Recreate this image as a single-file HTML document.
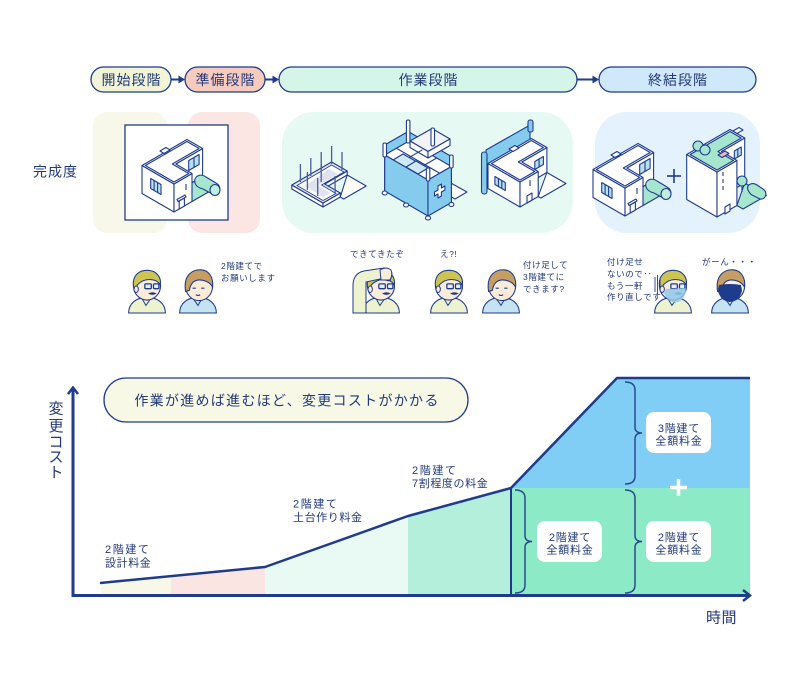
<!DOCTYPE html>
<html><head><meta charset="utf-8">
<style>
html,body{margin:0;padding:0;background:#fff;}
svg{display:block;}
text{font-family:"Liberation Sans","Noto Sans CJK JP",sans-serif;fill:#22397a;}
.s{stroke:#1f3b8c;stroke-width:1.1;stroke-linejoin:round;}
.w{fill:#fff;}
.win{fill:#b9e0f2;}
.g{fill:#a6e5ce;}
.bl{fill:#85cbee;}
</style></head><body>
<svg width="800" height="680" viewBox="0 0 800 680" xmlns="http://www.w3.org/2000/svg">
<defs>
  <g id="house1">
    <polygon class="s g" points="202.6,176.5 219,186 192,201.5 175.8,192"/>
    <polygon class="s w" points="202.6,148.5 202.6,176.5 175.8,192 175.8,164"/>
    <polygon class="s win" points="199.1,154.5 188.7,160.5 188.7,170.5 199.1,164.5"/>
    <line class="s" x1="194" y1="157.5" x2="194" y2="167.5"/>
    <path class="s g" d="M195,183 C193,176 201,173 206,177 L216,183 C222,186 221,195 214,195 L203,189 C199,188 196,186 195,183Z"/>
    <ellipse class="s" cx="215" cy="190" rx="5" ry="5.5" fill="#bfeedd"/>
    <polygon class="s w" points="142,165.5 174,184 174,212 142,193.5"/>
    <polygon class="s w" points="174,184 192,173.5 192,201.5 174,212"/>
    <polygon class="s w" points="187,139.5 202.6,148.5 175.8,164 192,173.5 174,184 142,165.5"/>
    <polygon class="s w" points="187,141.5 199.1,148.5 172.3,164 188.7,173.5 174,182 145.4,165.5"/>
    <polygon class="s w" points="160,151 166,147.5 170,150 164,153.5"/>
    <polygon class="s win" points="150.7,178.5 161,184.5 161,194.5 150.7,188.5"/>
    <line class="s" x1="154.1" y1="180.5" x2="154.1" y2="190.5"/>
    <line class="s" x1="157.6" y1="182.5" x2="157.6" y2="192.5"/>
    <polygon class="s w" points="184.4,206 179.2,209 179.2,201 184.4,198"/>
    <polygon class="s w" points="186,197 178,201.5 177,199.5 185,195"/>
    <line class="s" x1="186" y1="184" x2="186" y2="190"/>
  </g>
  <g id="pg">
    <path d="M-17,0 C-17,-9 -10,-14 0,-15 C10,-14 17,-9 17,0 Z" fill="#eef3cf" stroke="#1f3b8c" stroke-width="1"/>
    <path d="M-5,-14 L-1,-7 L4,-14" fill="none" stroke="#1f3b8c" stroke-width="0.9"/>
    <ellipse cx="0" cy="-25" rx="12.5" ry="13" fill="#fbecd9" stroke="#1f3b8c" stroke-width="1"/>
    <path d="M-12.5,-24 C-14,-36 -6,-40 1,-39.5 C9,-39 13.5,-33 12.3,-26 C10,-30 6,-31 2,-31 C-3,-31 -6,-29 -9,-26 L-10,-22 Z" fill="#cdc552" stroke="#1f3b8c" stroke-width="1"/>
    <rect x="-2" y="-27" width="6" height="4.5" rx="1" fill="#e3f1f7" stroke="#1f3b8c" stroke-width="1.2"/>
    <rect x="6" y="-27" width="5" height="4.5" rx="1" fill="#e3f1f7" stroke="#1f3b8c" stroke-width="1.2"/>
    <path d="M1,-18 Q5,-20.5 9,-18 Q5,-15.5 1,-18Z" fill="#1f3b8c"/>
    <ellipse cx="-10" cy="-22" rx="2" ry="3" fill="#fbecd9" stroke="#1f3b8c" stroke-width="0.9"/>
  </g>
  <g id="pb">
    <path d="M-17,0 C-17,-9 -10,-14 0,-15 C10,-14 17,-9 17,0 Z" fill="#c6e3f4" stroke="#1f3b8c" stroke-width="1"/>
    <path d="M-5,-14 L0,-7 L4,-14" fill="none" stroke="#1f3b8c" stroke-width="0.9"/>
    <ellipse cx="1" cy="-25" rx="12.5" ry="13.5" fill="#fbecd9" stroke="#1f3b8c" stroke-width="1"/>
    <path d="M-11.5,-20 C-14,-36 -4,-40.5 3,-40 C10,-39.5 14.5,-33 13.5,-24 C11,-29 5,-31 0,-30.5 C-4,-30 -7,-27 -8,-21 Z" fill="#c79e62" stroke="#1f3b8c" stroke-width="1"/>
    <path d="M-5,-23 l3,0 M3,-23 l3,0" stroke="#1f3b8c" stroke-width="1.1"/>
    <path d="M-2,-17 q2,1.5 4,0" fill="none" stroke="#1f3b8c" stroke-width="1"/>
  </g>
</defs>

<!-- Phase pills -->
<rect x="91" y="67" width="80" height="25" rx="12.5" fill="#f1f4d6" stroke="#1f3b8c" stroke-width="1.3"/>
<rect x="185" y="67" width="80" height="25" rx="12.5" fill="#f6cbbf" stroke="#1f3b8c" stroke-width="1.3"/>
<rect x="279" y="67" width="298" height="25" rx="12.5" fill="#d5f5e8" stroke="#1f3b8c" stroke-width="1.3"/>
<rect x="599" y="67" width="157" height="25" rx="12.5" fill="#cfe9fb" stroke="#1f3b8c" stroke-width="1.3"/>
<g stroke="#1f3b8c" stroke-width="2">
  <line x1="171" y1="79.5" x2="181" y2="79.5"/>
  <line x1="265" y1="79.5" x2="275" y2="79.5"/>
  <line x1="577" y1="79.5" x2="595" y2="79.5"/>
</g>
<g fill="#1f3b8c">
  <polygon points="185,79.5 178.5,75.5 178.5,83.5"/>
  <polygon points="279,79.5 272.5,75.5 272.5,83.5"/>
  <polygon points="599,79.5 592.5,75.5 592.5,83.5"/>
</g>
<g font-size="14" text-anchor="middle" letter-spacing="1">
  <text x="131.5" y="84.8">開始段階</text>
  <text x="225.5" y="84.8">準備段階</text>
  <text x="428.5" y="84.8">作業段階</text>
  <text x="678" y="84.8">終結段階</text>
</g>

<!-- Panels -->
<text x="33" y="176.5" font-size="14" letter-spacing="1">完成度</text>
<rect x="93" y="112" width="74" height="121" rx="14" fill="#f7f8e9"/>
<rect x="188" y="112" width="72" height="121" rx="14" fill="#fbe6e3"/>
<rect x="125" y="125" width="103" height="95" fill="#fff" stroke="#1f3b8c" stroke-width="1.3"/>
<rect x="282" y="112" width="291" height="121" rx="32" fill="#e6f9f2"/>
<rect x="595" y="112" width="165" height="121" rx="32" fill="#e3f2fd"/>

<!-- Building 1 -->
<use href="#house1"/>

<!-- Building 2: foundation -->
<polygon class="s w" points="347.2,175 366.2,186 343.7,199 340.3,197"/>
<polygon class="s w" points="291.8,185 323,203 323,207 291.8,189"/>
<polygon class="s w" points="323,203 340.3,193 340.3,197 323,207"/>
<polygon class="s w" points="347.2,171 324.7,184 324.7,188 347.2,175"/>
<polygon class="s" fill="#e4e7f1" points="331.6,162 347.2,171 324.7,184 340.3,193 323,203 291.8,185"/>
<polygon fill="#fff" stroke="#1f3b8c" stroke-width="0.8" points="331.6,165 344,172 321.5,185 336,193.5 323,200.5 297,185.5"/>
<polygon fill="#dfe3ee" points="329,169 338,174 318,185.5 330,193 323,197 305,186"/>
<g stroke="#4a5c9c" stroke-width="1.3">
  <line x1="331.6" y1="164" x2="331.6" y2="146"/>
  <line x1="342" y1="170" x2="342" y2="152"/>
  <line x1="321.2" y1="170" x2="321.2" y2="152"/>
  <line x1="310.8" y1="176" x2="310.8" y2="158"/>
  <line x1="300.4" y1="182" x2="300.4" y2="164"/>
  <line x1="321.2" y1="182" x2="321.2" y2="164"/>
  <line x1="307.4" y1="190" x2="307.4" y2="172"/>
  <line x1="317.7" y1="196" x2="317.7" y2="178"/>
  <line x1="335.1" y1="194" x2="335.1" y2="176"/>
</g>

<!-- Building 3: scaffolded -->
<polygon class="s w" points="449,182 467,192 455,199 449,195.5"/>
<polygon class="s bl" points="384.7,145 408.1,131.5 408.1,177.5 384.7,191"/>
<polygon class="s bl" points="408.1,131.5 451.4,156.5 451.4,202.5 408.1,177.5"/>
<polygon class="s w" points="384.7,155 408.1,141.5 451.4,166.5 428,180"/>
<polygon class="s" fill="#f2f4f8" points="410,141 432,128.5 450,139 428,151.5"/>
<polygon class="s w" points="410,141 428,151.5 428,158 410,147.5"/>
<polygon class="s w" points="428,151.5 450,139 450,145.5 428,158"/>
<g class="s" fill="none">
  <line x1="399" y1="163.3" x2="422.4" y2="149.8"/>
  <line x1="413.3" y1="171.5" x2="436.7" y2="158"/>
  <line x1="396.4" y1="148.25" x2="439.7" y2="173.25"/>
  <polygon fill="#cfeaf7" points="393,160 403,154 418,162.5 408,168.5"/>
  <polygon fill="#cfeaf7" points="406,167 416,161 428,168 418,174"/>
</g>
<polygon class="s bl" points="384.7,155 428,180 428,216 384.7,191"/>
<polygon class="s bl" points="428,180 451.4,166.5 451.4,202.5 428,216"/>
<polygon class="s w" points="438,186 441.4,184 441.4,188 444.9,186 444.9,190 441.4,192 441.4,196 438,198 438,194 434.5,196 434.5,192 438,190"/>
<g class="s" fill="#fff">
  <rect x="383" y="143" width="3.5" height="14" rx="1.5"/>
  <rect x="406.4" y="120" width="3.5" height="23" rx="1.5"/>
  <rect x="431" y="128" width="3.5" height="18" rx="1.5"/>
  <rect x="449.6" y="155" width="3.5" height="13" rx="1.5"/>
  <rect x="426.3" y="168" width="3.5" height="13" rx="1.5"/>
  <ellipse cx="384.7" cy="193" rx="2.5" ry="2"/>
  <ellipse cx="428" cy="218" rx="2.5" ry="2"/>
  <ellipse cx="451.4" cy="204.5" rx="2.5" ry="2"/>
  <ellipse cx="406" cy="205" rx="2.5" ry="2"/>
</g>

<!-- Building 4: nearly complete -->
<polygon class="s bl" points="486,150 530,125 530,142 486,167"/>
<rect class="s bl" x="528" y="120" width="5" height="12" rx="2"/>
<polygon class="s w" points="546.9,172.5 566,183.5 540.9,198 538.2,196.5"/>
<polygon class="s w" points="546.9,147.5 546.9,172.5 521.8,187 521.8,162"/>
<polygon class="s win" points="543.4,156.5 534.8,161.5 534.8,169.5 543.4,164.5"/>
<line class="s" x1="539.1" y1="159" x2="539.1" y2="167"/>
<polygon class="s w" points="488,163.5 520,182 520,207 488,188.5"/>
<polygon class="s w" points="520,182 538.2,171.5 538.2,196.5 520,207"/>
<polygon class="s w" points="531.3,138.5 546.9,147.5 521.8,162 538.2,171.5 520,182 488,163.5"/>
<polygon class="s w" points="531.3,140.5 543.4,147.5 518.3,162 534.8,171.5 520,180 491.5,163.5"/>
<polygon class="s w" points="509,149 515,145.5 519,148 513,151.5"/>
<polygon class="s win" points="494.9,176.5 505.3,182.5 505.3,190.5 494.9,184.5"/>
<line class="s" x1="498.4" y1="178.5" x2="498.4" y2="186.5"/>
<line class="s" x1="501.8" y1="180.5" x2="501.8" y2="188.5"/>
<polygon class="s w" points="532,200 527,203 527,196 532,193"/>
<line class="s" x1="530" y1="180" x2="530" y2="186"/>
<rect class="s bl" x="481.5" y="152" width="5.5" height="42" rx="2.5"/>

<!-- Building 5 -->
<use href="#house1" transform="translate(451,4)"/>

<!-- plus -->
<g stroke="#1f3b8c" stroke-width="1.6">
  <line x1="667" y1="176" x2="681" y2="176"/>
  <line x1="674" y1="169" x2="674" y2="183"/>
</g>

<!-- Building 6: 3 floors -->
<polygon class="s g" points="744.7,183 766.4,195.5 743,209 736.9,205.5"/>
<polygon class="s w" points="744.7,138 744.7,183 721.4,196.5 721.4,151.5"/>
<polygon class="s win" points="741.3,147 734.3,151 734.3,159 741.3,155"/>
<line class="s" x1="737.8" y1="149" x2="737.8" y2="157"/>
<path class="s g" d="M748,190 C746,184 753,182 757,185 L763,189 C768,192 766,200 760,199 L752,195 C750,194 749,192 748,190Z"/>
<line class="s" x1="742" y1="184" x2="742" y2="192"/>
<circle class="s g" cx="742" cy="181" r="5"/>
<polygon class="s w" points="686.7,154.5 717,172 717,217 686.7,199.5"/>
<polygon class="s w" points="717,172 736.9,160.5 736.9,205.5 717,217"/>
<polygon class="s w" points="730,129.5 744.7,138 721.4,151.5 736.9,160.5 717,172 686.7,154.5"/>
<polygon class="s g" points="730,131.5 741.3,138 717.9,151.5 733.5,160.5 717,170 690.2,154.5"/>
<polygon class="s w" points="733,131 739,127.5 743,130 737,133.5"/>
<circle class="s g" cx="698" cy="146" r="5"/>
<circle class="s g" cx="705" cy="150" r="5"/>
<polygon class="s" fill="#f4b9ad" points="718,155 725,151 729,153.5 722,157.5"/>
<g class="s">
  <line x1="723" y1="172" x2="723" y2="176"/>
  <line x1="723" y1="179" x2="723" y2="183"/>
  <line x1="723" y1="186" x2="723" y2="190"/>
</g>
<polygon class="s w" points="730,211 725,214 725,207 730,204"/>

<!-- People -->
<use href="#pg" transform="translate(147,313) scale(1.08)"/>
<use href="#pb" transform="translate(198,313) scale(1.08)"/>
<use href="#pg" transform="translate(381,313) scale(1.08)"/>
<path d="M353,313 L353,284 Q354,273 364,271 L384,268 Q391,268 392,274 L390,281 L380,279 L366,282 L366,313 Z" fill="#eef3cf" stroke="#1f3b8c" stroke-width="1"/>
<path d="M380,270 q6,-4 11,0 q2,5 -1,10 l-9,0 Z" fill="#fbecd9" stroke="#1f3b8c" stroke-width="1"/>
<use href="#pg" transform="translate(449,313) scale(1.08)"/>
<use href="#pb" transform="translate(501,313) scale(1.08)"/>
<use href="#pg" transform="translate(673,313) scale(1.08)"/>
<path d="M664,293 Q668,302 675,302.5 Q684,302 686,291 L685,288 L666,289 Z" fill="#8fc9ea" opacity="0.85"/>
<g stroke="#1f3b8c" stroke-width="0.9">
  <line x1="655" y1="277" x2="655" y2="292"/>
  <line x1="657.5" y1="275" x2="657.5" y2="294"/>
  <line x1="660" y1="278" x2="660" y2="290"/>
</g>
<use href="#pb" transform="translate(730,313) scale(1.08)"/>
<path d="M718,289 Q719,300 729,302 Q739,302 742,291 L741,285 Q730,283 719,285 Z" fill="#1f3b8c"/>

<!-- Speech texts -->
<g font-size="8.5" letter-spacing="0.6">
  <text x="221" y="269">2階建てで</text>
  <text x="221" y="281">お願いします</text>
  <text x="350" y="257">できてきたぞ</text>
  <text x="440" y="257">え?!</text>
  <text x="523" y="268">付け足して</text>
  <text x="523" y="280">3階建てに</text>
  <text x="523" y="292">できます?</text>
  <text x="607" y="265">付け足せ</text>
  <text x="607" y="277">ないので‥</text>
  <text x="607" y="289">もう一軒</text>
  <text x="607" y="300">作り直しです</text>
  <text x="702" y="265">がーん・・・</text>
</g>

<!-- Chart fills -->
<polygon points="101,582.9 171,576.1 171,595 101,595" fill="#f7f8e8"/>
<polygon points="171,576.1 265,567 265,595 171,595" fill="#fbe5e3"/>
<polygon points="265,567 408,516 408,595 265,595" fill="#e8faf3"/>
<polygon points="408,516 511,488 511,595 408,595" fill="#b4efdb"/>
<polygon points="511,488 750,488 750,595 511,595" fill="#8deac6"/>
<polygon points="511,488 617,378 750,378 750,488" fill="#80cdf5"/>

<polyline points="100,583 265,567 408,516 511,488 617,378 750,378" fill="none" stroke="#1f3b8c" stroke-width="2.5" stroke-linejoin="round"/>
<line x1="511" y1="488" x2="511" y2="595" stroke="#1f3b8c" stroke-width="2"/>

<!-- braces -->
<g fill="none" stroke="#2a4a8f" stroke-width="1.5">
  <path d="M515,490 Q525,490 525,498 L525,535.5 Q525,541.5 532,541.5 Q525,541.5 525,547.5 L525,585 Q525,593 515,593"/>
  <path d="M625,490 Q635,490 635,498 L635,535.5 Q635,541.5 642,541.5 Q635,541.5 635,547.5 L635,585 Q635,593 625,593"/>
  <path d="M625,382 Q635,382 635,390 L635,427 Q635,433 642,433 Q635,433 635,439 L635,476 Q635,484 625,484"/>
</g>

<!-- boxes -->
<rect x="537" y="521" width="65" height="41" rx="8" fill="#fff"/>
<rect x="646" y="521" width="65" height="41" rx="8" fill="#fff"/>
<rect x="646" y="412" width="65" height="41" rx="8" fill="#fff"/>
<g font-size="11" text-anchor="middle" letter-spacing="0.8">
  <text x="570" y="541">2階建て</text>
  <text x="570" y="553.5">全額料金</text>
  <text x="679" y="541">2階建て</text>
  <text x="679" y="553.5">全額料金</text>
  <text x="679" y="432">3階建て</text>
  <text x="679" y="444.5">全額料金</text>
</g>
<g stroke="#fff" stroke-width="3.5">
  <line x1="670" y1="487.5" x2="687" y2="487.5"/>
  <line x1="678.5" y1="479" x2="678.5" y2="496"/>
</g>

<!-- axes -->
<line x1="73" y1="597" x2="73" y2="388" stroke="#1f3b8c" stroke-width="3"/>
<polyline points="68,394 73,387.5 78,394" fill="none" stroke="#1f3b8c" stroke-width="2.5"/>
<line x1="71.5" y1="595.5" x2="749" y2="595.5" stroke="#1f3b8c" stroke-width="3"/>
<polyline points="743,590 750,595.5 743,601" fill="none" stroke="#1f3b8c" stroke-width="2.5"/>

<g font-size="15" text-anchor="middle">
  <text x="56" y="413.5">変</text>
  <text x="56" y="431">更</text>
  <text x="56" y="447">コ</text>
  <text x="56" y="462">ス</text>
  <text x="56" y="477.5">ト</text>
</g>
<text x="706" y="622.5" font-size="15" letter-spacing="0.5">時間</text>

<!-- callout -->
<rect x="104" y="378" width="364" height="44" rx="22" fill="#f7f8e6" stroke="#1f3b8c" stroke-width="1.3"/>
<text x="287" y="405.5" font-size="14" text-anchor="middle" letter-spacing="1.3">作業が進めば進むほど、変更コストがかかる</text>

<!-- chart labels -->
<g font-size="11" letter-spacing="0.6">
  <text x="105" y="553" letter-spacing="1.6">2階建て</text>
  <text x="105" y="566.5">設計料金</text>
  <text x="293" y="507.5" letter-spacing="1.6">2階建て</text>
  <text x="293" y="521">土台作り料金</text>
  <text x="412" y="474" letter-spacing="1.6">2階建て</text>
  <text x="412" y="487">7割程度の料金</text>
</g>
</svg>
</body></html>
